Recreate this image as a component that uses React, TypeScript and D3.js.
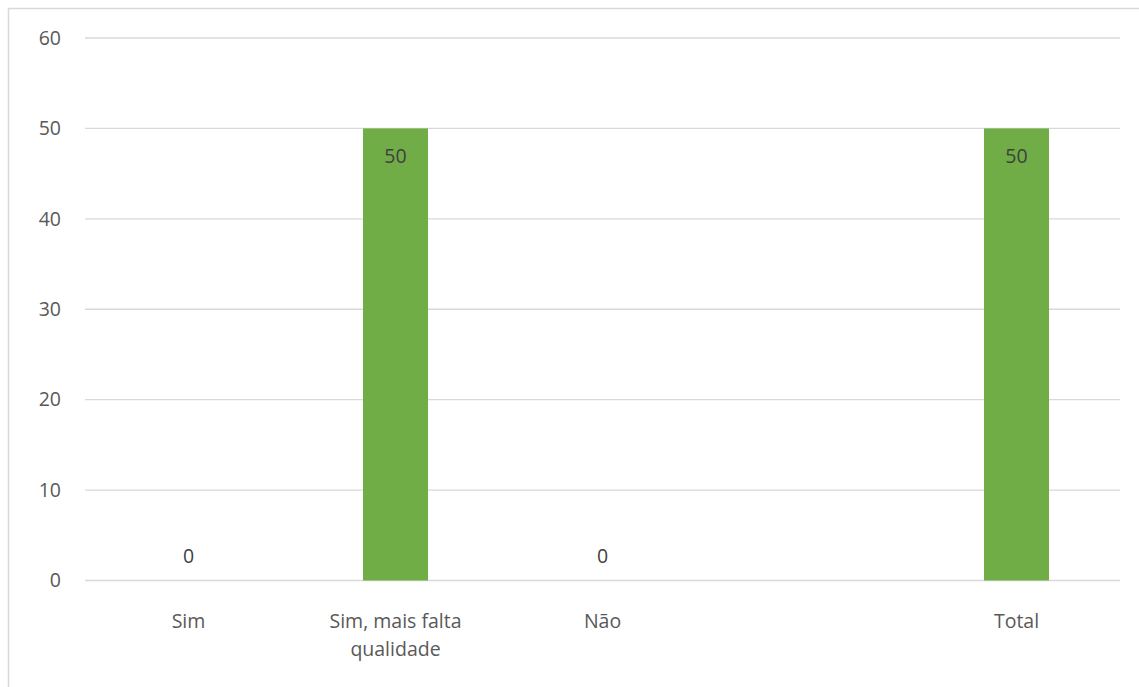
import React from "react";
import * as d3 from "d3";

const categories = ["Sim", "Sim, mais falta qualidade", "Não", "", "Total"];
const categoryLines = [["Sim"], ["Sim, mais falta", "qualidade"], ["Não"], [], ["Total"]];
const values: (number | null)[] = [0, 50, 0, null, 50];
const yTicks = [0, 10, 20, 30, 40, 50, 60];

export default function App() {
  const W = 1139, H = 687;
  const left = 85, right = 1120, top = 38, bottom = 580.5;
  const x = d3.scaleBand<string>().domain(categories.map((c, i) => i + "")).range([left, right]).paddingInner(0.686).paddingOuter(0.343);
  const y = d3.scaleLinear().domain([0, 60]).range([bottom, top]);
  const font = "'Open Sans', Carlito, sans-serif";
  const color = "#595959";
  const fs = 19.5;
  return (
    <svg width={W} height={H} style={{ position: "absolute", left: 0, top: 0 }}>
      <rect x={0} y={0} width={W} height={H} fill="#fff" />
      <rect x={8.5} y={8.5} width={W + 10} height={H + 10} fill="none" stroke="#d9d9d9" strokeWidth={1.5} />
      {yTicks.map((t) => (
        <g key={t}>
          <line x1={left} x2={right} y1={y(t)} y2={y(t)} stroke="#d9d9d9" strokeWidth={1.3} />
          <text x={61} y={y(t)} dy="0.35em" textAnchor="end" fontFamily={font} fontSize={fs} fill={color}>{t}</text>
        </g>
      ))}
      {values.map((v, i) => {
        if (v === null) return null;
        const bx = x(i + "")!;
        const bw = x.bandwidth();
        const cx = bx + bw / 2;
        return (
          <g key={i}>
            {v > 0 && <rect x={bx} y={y(v)} width={bw} height={y(0) - y(v)} fill="#70AD47" />}
            <text x={cx} y={v > 0 ? y(v) + 28 : y(v) - 24} dy="0.35em" textAnchor="middle" fontFamily={font} fontSize={fs} fill="#404040">{v}</text>
          </g>
        );
      })}
      {categoryLines.map((lines, i) => {
        const cx = x(i + "")! + x.bandwidth() / 2;
        return (
          <text key={i} textAnchor="middle" fontFamily={font} fontSize={fs} fill={color}>
            {lines.map((l, j) => (
              <tspan key={j} x={cx} y={621 + j * 28} dy="0.35em">{l}</tspan>
            ))}
          </text>
        );
      })}
    </svg>
  );
}
